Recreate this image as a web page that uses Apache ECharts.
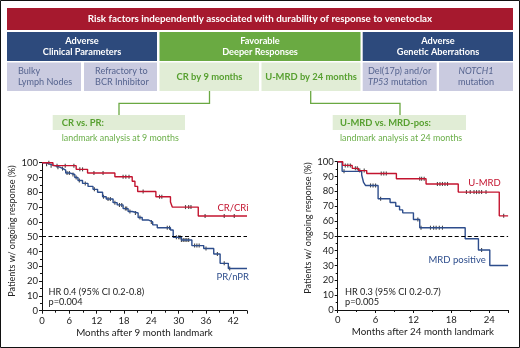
<!DOCTYPE html>
<html>
<head>
<meta charset="utf-8">
<script src="https://cdn.jsdelivr.net/npm/echarts@6/dist/echarts.min.js"></script>
<style>
  body { margin: 0; background: #fff; }
  #main { width: 520px; height: 348px; }
</style>
</head>
<body>
<div id="main"></div>
<script>
// left panel: landmark at 9 months (CR vs PR)
var crTime = [0, 2.4, 7.5, 10, 16, 19.8, 20.4, 21, 25, 28.2, 28.6, 34.3, 45]
var crSurv = [100, 98, 95.5, 93, 90.5, 87.5, 84, 80.5, 77, 73.5, 70, 64, 64]
var crCens = [1.5, 3.3, 5.1, 7, 8.3, 8.9, 11.4, 13.4, 17.8, 18.4, 19.1, 22.2, 25.8, 26.3, 31.5, 32.2, 32.7, 35.8, 40, 42.2]

var prTime = [0, 0.8, 1.7, 2.8, 3.9, 4.6, 5.2, 6.2, 7.2, 7.9, 8.9, 10.1, 11.2, 12.2, 13.3, 14.1, 15.6, 16.5, 17.8, 18.9, 19.8, 21.1, 22, 23.3, 24.3, 25.3, 28.2, 28.8, 30.6, 32.9, 35.5, 37.7, 39.1, 40.9, 45]
var prSurv = [100, 99, 98, 97, 96, 95, 93, 92, 90, 88, 86, 84, 82, 80, 77, 75.5, 73, 71.5, 69, 67, 66, 63, 61.3, 60, 58, 56, 54.5, 49.6, 47.8, 44, 42, 38.3, 32, 28.5, 28.5]
var prCens = [1, 2, 3.5, 4.5, 5.5, 6, 6.8, 7.5, 8.2, 9.5, 11.5, 13.5, 14.5, 15, 16, 17, 17.5, 18.3, 18.6, 19.3, 20.5, 21.5, 24, 27.5, 28, 29.5, 30, 30.3, 30.6, 31, 31.4, 31.8, 32.2, 33.5, 34, 34.5, 36, 38.5, 40, 41.2]

// right panel: landmark at 24 months (U-MRD vs MRD positive)
var umrdTime = [0, 0.8, 2.3, 3.3, 4.6, 9.3, 14, 19.1, 25.6, 27]
var umrdSurv = [100, 97.5, 95.5, 94, 92, 88.5, 85, 79.5, 63.5, 63.5]
var umrdCens = [1.2, 1.6, 2, 2.8, 3.1, 3.5, 4.2, 6.9, 7.3, 7.7, 13, 13.3, 13.7, 15.8, 16.2, 16.6, 17, 17.4, 20.4, 21, 21.6, 22, 22.4, 22.8, 23.5, 26.3]

var mrdTime = [0, 0.7, 3.8, 4.1, 4.4, 6.4, 8.3, 9.2, 9.8, 10.3, 12, 13, 20.2, 22.3, 24.1, 27]
var mrdSurv = [100, 93.5, 91, 86, 84, 75, 72.5, 70, 67.5, 65.5, 61, 55.5, 48, 40.5, 30, 30]
var mrdCens = [1, 5.2, 5.6, 6, 6.8, 12.7, 13.2, 14.7, 15.2, 15.6, 16.1, 16.6, 22.8]

var xTicksLeft = [0, 6, 12, 18, 24, 30, 36, 42]
var xTicksRight = [0, 6, 12, 18, 24]

var RED = '#c3142f'
var BLUE = '#2d4d8c'
var FONT = 'Lato, "Open Sans", sans-serif'

function steps(t, s) {
  return t.map(function (x, i) { return [x, s[i]] })
}
function survAt(t, s, x) {
  var v = s[0]
  for (var i = 0; i < t.length; i++) if (t[i] <= x) v = s[i]
  return v
}
function censor(t, s, c) {
  return c.map(function (x) { return [x, survAt(t, s, x)] })
}

var myChart = echarts.init(document.getElementById('main'), null, { renderer: 'canvas' })

function xAxisOf(grid, max, ticks, name) {
  return {
    gridIndex: grid, type: 'value', min: 0, max: max, interval: 6,
    name: name, nameLocation: 'middle', nameGap: 17,
    nameTextStyle: { fontSize: 9.8, color: '#222', fontFamily: FONT },
    axisLine: { lineStyle: { color: '#111', width: 1 } },
    axisTick: { length: 3, lineStyle: { color: '#111' } },
    minorTick: { show: true, splitNumber: 2, length: 2, lineStyle: { color: '#111' } },
    splitLine: { show: false },
    axisLabel: {
      fontSize: 9.5, color: '#222', margin: 5, fontFamily: FONT, showMaxLabel: false,
      formatter: function (v) { return ticks.indexOf(v) >= 0 ? v : '' }
    }
  }
}
function yAxisOf(grid) {
  return {
    gridIndex: grid, type: 'value', min: 0, max: 100, interval: 10,
    axisLine: { show: true, lineStyle: { color: '#111', width: 1 } },
    axisTick: { show: true, length: 3, lineStyle: { color: '#111' } },
    minorTick: { show: true, splitNumber: 2, length: 2, lineStyle: { color: '#111' } },
    splitLine: { show: false },
    axisLabel: { fontSize: 9.5, color: '#222', margin: 4, fontFamily: FONT }
  }
}
function kmLine(name, grid, data, color, dashed) {
  var s = {
    name: name, type: 'line', step: 'end', xAxisIndex: grid, yAxisIndex: grid,
    data: data, showSymbol: false, symbol: 'none', silent: true,
    lineStyle: { color: color, width: 1.4 }
  }
  if (dashed) {
    s.markLine = {
      silent: true, symbol: ['none', 'none'], label: { show: false },
      lineStyle: { color: '#000', type: [4, 2.5], width: 1.1 },
      data: [{ yAxis: 50 }]
    }
  }
  return s
}
function ticks(grid, data) {
  return {
    type: 'scatter', xAxisIndex: grid, yAxisIndex: grid, data: data,
    symbol: 'rect', symbolSize: [1.1, 4], silent: true,
    itemStyle: { color: '#1a1a1a' }
  }
}

function box(x, y, w, h, fill) {
  return { type: 'rect', shape: { x: x, y: y, width: w, height: h }, style: { fill: fill } }
}
function txt(x, y, text, opt) {
  opt = opt || {}
  return {
    type: 'text', x: x, y: y, rotation: opt.rot || 0,
    style: {
      text: text, fill: opt.color || '#222',
      font: (opt.italic ? 'italic ' : '') + (opt.bold ? 'bold ' : '') + (opt.size || 9) + 'px ' + FONT,
      textAlign: opt.align || 'left', textVerticalAlign: 'middle',
      lineHeight: opt.lh || 11, rich: opt.rich
    }
  }
}
function seg(points) {
  return {
    type: 'polyline', shape: { points: points },
    style: { stroke: '#6aa842', lineWidth: 1.3, fill: null }
  }
}

var NAVY = '#2d4a7c'
var GREEN = '#6aaa42'
var LAV = '#cacbe0'
var LGREEN = '#e1edd6'
var LAVTXT = '#56648f'
var GTXT = '#57a030'
var rowRich = {
  n: { font: '9.1px ' + FONT, fill: LAVTXT, lineHeight: 11 },
  i: { font: 'italic 9.1px ' + FONT, fill: LAVTXT, lineHeight: 11 }
}

var option = {
  backgroundColor: '#fff',
  animation: false,
  grid: [
    { left: 42, top: 162.7, width: 205, height: 148 },
    { left: 337.7, top: 161.7, width: 170.4, height: 148.3 }
  ],
  xAxis: [
    xAxisOf(0, 45, xTicksLeft, 'Months after 9 month landmark'),
    xAxisOf(1, 27, xTicksRight, 'Months after 24 month landmark')
  ],
  yAxis: [yAxisOf(0), yAxisOf(1)],
  series: [
    kmLine('PR/nPR', 0, steps(prTime, prSurv), BLUE, true),
    kmLine('CR/CRi', 0, steps(crTime, crSurv), RED, false),
    ticks(0, censor(prTime, prSurv, prCens)),
    ticks(0, censor(crTime, crSurv, crCens)),
    kmLine('MRD positive', 1, steps(mrdTime, mrdSurv), BLUE, true),
    kmLine('U-MRD', 1, steps(umrdTime, umrdSurv), RED, false),
    ticks(1, censor(mrdTime, mrdSurv, mrdCens)),
    ticks(1, censor(umrdTime, umrdSurv, umrdCens))
  ],
  graphic: [
    { type: 'rect', shape: { x: 0.5, y: 0.5, width: 519, height: 347 }, style: { fill: null, stroke: '#111', lineWidth: 1 } },
    box(7, 8, 506, 22, '#a6192e'),
    txt(260, 19, 'Risk factors independently associated with durability of response to venetoclax', { bold: true, size: 9.8, color: '#fff', align: 'center' }),

    box(7, 32, 150, 29, NAVY),
    box(159.5, 32, 201, 29, GREEN),
    box(362.7, 32, 150.3, 29, NAVY),
    txt(82, 46.5, 'Adverse\nClinical Parameters', { bold: true, size: 9.2, color: '#fff', align: 'center', lh: 10.5 }),
    txt(260, 46.5, 'Favorable\nDeeper Responses', { bold: true, size: 9.2, color: '#fff', align: 'center', lh: 10.5 }),
    txt(438, 46.5, 'Adverse\nGenetic Aberrations', { bold: true, size: 9.2, color: '#fff', align: 'center', lh: 10.5 }),

    box(7, 62.5, 74, 28.5, LAV),
    box(84, 62.5, 73, 28.5, LAV),
    box(159.5, 62.5, 99.5, 28.5, LGREEN),
    box(261.5, 62.5, 99, 28.5, LGREEN),
    box(362.7, 62.5, 74, 28.5, LAV),
    box(439, 62.5, 74, 28.5, LAV),
    txt(18, 76.5, 'Bulky\nLymph Nodes', { size: 9.1, color: LAVTXT }),
    txt(95, 76.5, 'Refractory to\nBCR Inhibitor', { size: 9.1, color: LAVTXT }),
    txt(209.5, 77, 'CR by 9 months', { bold: true, size: 9.4, color: GTXT, align: 'center' }),
    txt(311, 77, 'U-MRD by 24 months', { bold: true, size: 9.4, color: GTXT, align: 'center' }),
    txt(368, 76.5, '{n|Del(17p) and/or}\n{i|TP53}{n| mutation}', { color: LAVTXT, rich: rowRich }),
    txt(476, 76.5, '{i|NOTCH1}\n{n|mutation}', { color: LAVTXT, align: 'center', rich: rowRich }),

    seg([[209.5, 91], [209.5, 103.3], [119, 103.3], [119, 115]]),
    seg([[310.7, 91], [310.7, 103.3], [400, 103.3], [400, 115]]),
    box(52.7, 115, 132.3, 15, LGREEN),
    box(332.7, 115, 133.3, 15, LGREEN),
    txt(61.7, 122.7, 'CR vs. PR:', { bold: true, size: 9.4, color: GTXT }),
    txt(61.7, 138.3, 'landmark analysis at 9 months', { size: 8.9, color: '#6aae48' }),
    txt(340, 122.7, 'U-MRD vs. MRD-pos:', { bold: true, size: 9.4, color: GTXT }),
    txt(340, 138.3, 'landmark analysis at 24 months', { size: 8.9, color: '#6aae48' }),

    txt(12, 231, 'Patients w/ ongoing response (%)', { size: 9, align: 'center', rot: Math.PI / 2 }),
    txt(308.3, 228, 'Patients w/ ongoing response (%)', { size: 9, align: 'center', rot: Math.PI / 2 }),

    txt(248.5, 208.3, 'CR/CRi', { size: 9.5, color: RED, align: 'right' }),
    txt(249, 276.7, 'PR/nPR', { size: 9.5, color: BLUE, align: 'right' }),
    txt(500.7, 183.3, 'U-MRD', { size: 9.5, color: RED, align: 'right' }),
    txt(485.7, 260, 'MRD positive', { size: 9.5, color: BLUE, align: 'right' }),

    txt(48.5, 291.7, 'HR 0.4 (95% CI 0.2-0.8)', { size: 9.2 }),
    txt(48.5, 301.7, 'p=0.004', { size: 9.2 }),
    txt(345, 291.7, 'HR 0.3 (95% CI 0.2-0.7)', { size: 9.2 }),
    txt(345, 301.7, 'p=0.005', { size: 9.2 })
  ]
}

myChart.setOption(option)
</script>
</body>
</html>
